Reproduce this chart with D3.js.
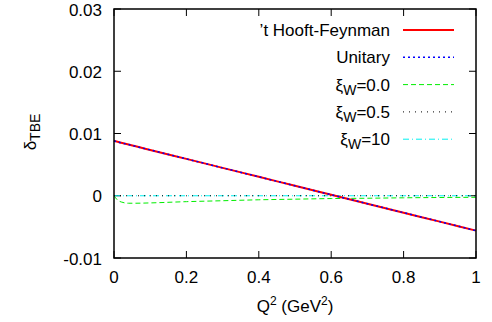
<!DOCTYPE html>
<html>
<head>
<meta charset="utf-8">
<script src="https://cdn.jsdelivr.net/npm/d3@7"></script>
<style>
  body { margin: 0; background: #fff; }
  text { font-family: "Liberation Sans", Arial, sans-serif; fill: #000; }
</style>
</head>
<body>
<div id="chart"></div>
<script>
{
  const width = 492;
  const height = 322;
  const margin = { top: 9, right: 16, bottom: 64, left: 114 };

  const xTicks = [0, 0.2, 0.4, 0.6, 0.8, 1];
  const xTickLabels = ["0", "0.2", "0.4", "0.6", "0.8", "1"];
  const yTicks = [-0.01, 0, 0.01, 0.02, 0.03];
  const yTickLabels = ["-0.01", "0", "0.01", "0.02", "0.03"];

  // Q^2 sample points
  const q2 = [0, 0.01, 0.02, 0.04, 0.06, 0.1, 0.2, 0.3, 0.4, 0.5, 0.6, 0.7, 0.8, 0.9, 1.0];
  const hooftFeynman = [0.0088, 0.00866, 0.00851, 0.00822, 0.00794, 0.00736, 0.00592, 0.00448, 0.00304, 0.0016, 0.00016, -0.00128, -0.00272, -0.00416, -0.0056];
  const unitary = [0.0088, 0.00866, 0.00851, 0.00822, 0.00794, 0.00736, 0.00592, 0.00448, 0.00304, 0.0016, 0.00016, -0.00128, -0.00272, -0.00416, -0.0056];
  const xi00 = [0, -0.0007, -0.001, -0.0012, -0.0012, -0.00115, -0.00095, -0.0008, -0.00065, -0.00055, -0.00045, -0.0004, -0.00033, -0.00028, -0.00025];
  const xi05 = [0, 0, 0, 0, 0, 0, 0, 0, 0, 0, 0, 0, 0, 0, 0];
  const xi10 = [0, 0, 0, 0, 0, 0, 0, 0, 0, 0, 0, 0, 0, 0, 0];

  const series = [
    { name: "’t Hooft-Feynman", values: hooftFeynman, color: "#ff0000", width: 2, dash: null },
    { name: "Unitary", values: unitary, color: "#0000ff", width: 1.5, dash: "2,3" },
    { name: "ξW=0.0", sub: "0.0", values: xi00, color: "#00ee00", width: 1, dash: "5,3" },
    { name: "ξW=0.5", sub: "0.5", values: xi05, color: "#000000", width: 1, dash: "1,5" },
    { name: "ξW=10", sub: "10", values: xi10, color: "#00f0f0", width: 1, dash: "6,3,1,3" }
  ];

  const FS = 17;

  const svg = d3.select("#chart").append("svg")
    .attr("width", width)
    .attr("height", height);

  const x = d3.scaleLinear().domain([0, 1]).range([margin.left, width - margin.right]);
  const y = d3.scaleLinear().domain([-0.01, 0.03]).range([height - margin.bottom, margin.top]);

  const x0 = x.range()[0], x1 = x.range()[1];
  const y0 = y.range()[0], y1 = y.range()[1];
  const tickLen = 7;

  const gTicks = svg.append("g").attr("stroke", "#000").attr("stroke-width", 1);
  xTicks.forEach(t => {
    gTicks.append("line").attr("x1", x(t)).attr("x2", x(t)).attr("y1", y0).attr("y2", y0 - tickLen);
    gTicks.append("line").attr("x1", x(t)).attr("x2", x(t)).attr("y1", y1).attr("y2", y1 + tickLen);
  });
  yTicks.forEach(t => {
    gTicks.append("line").attr("x1", x0).attr("x2", x0 + tickLen).attr("y1", y(t)).attr("y2", y(t));
    gTicks.append("line").attr("x1", x1).attr("x2", x1 - tickLen).attr("y1", y(t)).attr("y2", y(t));
  });

  svg.append("g").selectAll("text")
    .data(xTicks)
    .enter().append("text")
    .attr("x", d => x(d))
    .attr("y", y0 + 25)
    .attr("text-anchor", "middle")
    .attr("font-size", FS)
    .text((d, i) => xTickLabels[i]);

  svg.append("g").selectAll("text")
    .data(yTicks)
    .enter().append("text")
    .attr("x", x0 - 12)
    .attr("y", d => y(d) + 6.5)
    .attr("text-anchor", "end")
    .attr("font-size", FS)
    .text((d, i) => yTickLabels[i]);

  // axis titles
  const xt = svg.append("text")
    .attr("x", 295)
    .attr("y", 312)
    .attr("text-anchor", "middle")
    .attr("font-size", FS);
  xt.append("tspan").text("Q");
  xt.append("tspan").attr("font-size", 12).attr("dy", -7).text("2");
  xt.append("tspan").attr("dy", 7).text(" (GeV");
  xt.append("tspan").attr("font-size", 12).attr("dy", -7).text("2");
  xt.append("tspan").attr("dy", 7).text(")");

  const yt = svg.append("text")
    .attr("transform", "translate(36,132) rotate(-90)")
    .attr("text-anchor", "middle")
    .attr("font-size", FS);
  yt.append("tspan").text("δ");
  yt.append("tspan").attr("font-size", 14).attr("dy", 4).text("TBE");

  const line = d3.line()
    .x((d, i) => x(q2[i]))
    .y(d => y(d))
    .curve(d3.curveMonotoneX);

  const gLines = svg.append("g");
  [4, 3, 2, 0, 1].forEach(k => {
    const s = series[k];
    gLines.append("path")
      .attr("d", line(s.values))
      .attr("fill", "none")
      .attr("stroke", s.color)
      .attr("stroke-width", s.width)
      .attr("stroke-dasharray", s.dash);
  });

  // frame
  svg.append("rect")
    .attr("x", x0).attr("y", y1)
    .attr("width", x1 - x0).attr("height", y0 - y1)
    .attr("fill", "none")
    .attr("stroke", "#000")
    .attr("stroke-width", 1.5);

  // legend
  const legend = svg.append("g");
  series.forEach((s, i) => {
    const ly = 30 + i * 27.3;
    const t = legend.append("text")
      .attr("x", 390)
      .attr("y", ly + 6)
      .attr("text-anchor", "end")
      .attr("font-size", FS);
    if (s.sub) {
      t.append("tspan").text("ξ");
      t.append("tspan").attr("font-size", 14).attr("dy", 4).text("W");
      t.append("tspan").attr("dy", -4).text("=" + s.sub);
    } else {
      t.text(s.name);
    }
    legend.append("line")
      .attr("x1", 403).attr("x2", 454)
      .attr("y1", ly).attr("y2", ly)
      .attr("stroke", s.color)
      .attr("stroke-width", s.width)
      .attr("stroke-dasharray", s.dash);
  });
}
</script>
</body>
</html>
